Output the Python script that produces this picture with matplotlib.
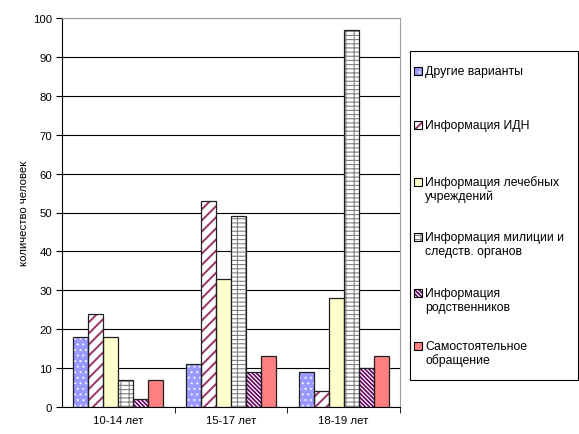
import numpy as np
import matplotlib.pyplot as plt
from matplotlib.patches import Rectangle

plt.rcParams['font.family'] = ['Liberation Sans', 'DejaVu Sans']
plt.rcParams['font.size'] = 8.2

groups = ["10-14 лет", "15-17 лет", "18-19 лет"]
series = [
    "Другие варианты",
    "Информация ИДН",
    "Информация лечебных\nучреждений",
    "Информация милиции и\nследств. органов",
    "Информация\nродственников",
    "Самостоятельное\nобращение",
]
drugie = [18, 11, 9]
idn = [24, 53, 4]
lech = [18, 33, 28]
milic = [7, 49, 97]
rodstv = [2, 9, 10]
samost = [7, 13, 13]
values = [drugie, idn, lech, milic, rodstv, samost]

# face colour, hatch, hatch colour, hatch line width
styles = [
    ("#9999FF", "...", "#EEEEFF", 0.8),
    ("white", "///", "#993366", 1.4),
    ("#FFFFCC", None, None, 0),
    ("white", "----||", "#808080", 0.8),
    ("white", "\\" * 8, "#660066", 1.2),
    ("#FF8080", None, None, 0),
]


def hatched_rect(xy, w, h, fc, hatch, hc, hlw):
    with plt.rc_context({"hatch.linewidth": hlw or 1.0}):
        if hatch:
            return Rectangle(xy, w, h, transform=fig.transFigure, facecolor=fc,
                             hatch=hatch, edgecolor=hc, linewidth=0)
        return Rectangle(xy, w, h, transform=fig.transFigure, facecolor=fc, linewidth=0)


fig = plt.figure(figsize=(5.79, 4.35), dpi=100)
ax = fig.add_axes([62 / 579, 27 / 435, 338 / 579, 389 / 435])

x = np.arange(len(groups))
w = 0.133
for i, (vals, (fc, hatch, hc, hlw)) in enumerate(zip(values, styles)):
    pos = x + (i - 2.5) * w
    if hatch:
        with plt.rc_context({"hatch.linewidth": hlw}):
            ax.bar(pos, vals, w, color=fc, hatch=hatch, edgecolor=hc, linewidth=0, zorder=3)
        ax.bar(pos, vals, w, fill=False, edgecolor="#202020", linewidth=0.9, zorder=4)
    else:
        ax.bar(pos, vals, w, color=fc, edgecolor="#202020", linewidth=0.9, zorder=3)

ax.set_xlim(-0.5, 2.5)
ax.set_ylim(0, 100)
ax.set_yticks(range(0, 101, 10))
ax.set_xticks(x)
ax.set_xticklabels(groups)
ax.set_xticks([0.5, 1.5, 2.5], minor=True)
ax.tick_params(axis="x", which="major", length=0, pad=6)
ax.tick_params(axis="x", which="minor", length=4, direction="out")
ax.tick_params(axis="y", length=4, direction="out", pad=3)
ax.yaxis.grid(True, color="black", linewidth=0.8, zorder=0)
ax.set_axisbelow(True)
for side in ("top", "right"):
    ax.spines[side].set_color("#A0A0A0")
for side in ("left", "bottom"):
    ax.spines[side].set_color("black")
ax.set_ylabel("количество человек", labelpad=3)

# legend box
fig.add_artist(Rectangle((410 / 579, 1 - 381 / 435), 168 / 579, 329 / 435,
                         transform=fig.transFigure, fill=False,
                         edgecolor="black", linewidth=0.8))
entry_y = [72, 126, 183, 238, 294, 347]
for (label, style), yy in zip(zip(series, styles), entry_y):
    bx, by = 414 / 579, 1 - (yy + 4) / 435
    fig.add_artist(hatched_rect((bx, by), 8 / 579, 8 / 435, *style))
    fig.add_artist(Rectangle((bx, by), 8 / 579, 8 / 435, transform=fig.transFigure,
                             fill=False, edgecolor="black", linewidth=0.8))
    for k, line in enumerate(label.split("\n")):
        fig.text(425 / 579, 1 - (yy + 14 * k) / 435, line, va="center", ha="left",
                 fontsize=8.8)

fig.savefig("out.png", dpi=100)
